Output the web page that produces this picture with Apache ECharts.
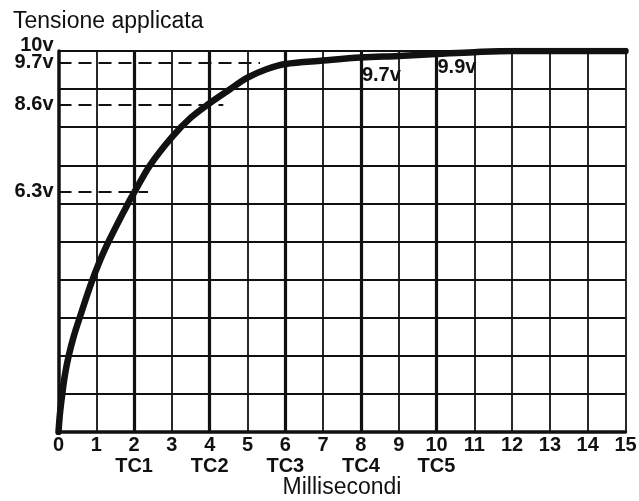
<!DOCTYPE html>
<html>
<head>
<meta charset="utf-8">
<title>Tensione applicata</title>
<script src="https://cdn.jsdelivr.net/npm/echarts@6/dist/echarts.min.js"></script>
<style>
  html, body { margin: 0; padding: 0; background: #fff; }
  #chart { width: 639px; height: 501px; }
</style>
</head>
<body>
<div id="chart"></div>
<script>
// Charging curve: applied voltage (v) against time (ms)
const timeMs  = [0, 0.04, 0.1, 0.17, 0.27, 0.4, 0.56, 0.9, 1.23, 1.84, 2, 2.42, 3, 3.5, 4, 4.5, 5, 5.5, 6, 7, 8, 9, 10, 11, 12, 15];
const voltage = [0, 0.5, 1.0, 1.5, 2.0, 2.5, 3.0, 4.0, 4.8, 6.0, 6.28, 7.0, 7.74, 8.25, 8.63, 8.97, 9.3, 9.52, 9.66, 9.75, 9.83, 9.87, 9.92, 9.97, 10, 10];

// Time constants marked on the time axis
const tcTimes  = [2, 4, 6, 8, 10];
const tcLabels = ['TC1', 'TC2', 'TC3', 'TC4', 'TC5'];

// Dashed reference levels and how far along the time axis they run
const guideLevels = [6.3, 8.6, 9.7];
const guideEnds   = [2.37, 4.36, 5.33];
const fullLevel   = 10;

// Voltage notes written beside TC4 and TC5
const noteTimes = [8, 10];
const noteVolts = [9.7, 9.9];

const boldFont = '"Liberation Sans Narrow", "Liberation Sans", Arial, sans-serif';
const plainFont = '"Liberation Sans", Arial, sans-serif';
const ink = '#111';

const curve = timeMs.map((t, i) => [t, voltage[i]]);

const guideLines = guideLevels.map((lvl, i) => [
  {
    coord: [0, lvl],
    label: { show: true, position: 'start', distance: 5, formatter: lvl + 'v' }
  },
  { coord: [guideEnds[i], lvl] }
]);
// label only for the full-scale level (invisible line segment)
guideLines.push([
  {
    coord: [0, fullLevel],
    lineStyle: { color: 'rgba(0,0,0,0)', width: 0.01 },
    label: { show: true, position: 'start', distance: 5, offset: [0, -6], formatter: fullLevel + 'v' }
  },
  { coord: [1, fullLevel] }
]);

const tcLines = tcTimes.map(t => ({ xAxis: t }));

const chart = echarts.init(document.getElementById('chart'));
chart.setOption({
  animation: false,
  backgroundColor: '#fff',
  title: {
    text: 'Tensione applicata',
    left: 8,
    top: 5,
    textStyle: { fontFamily: plainFont, fontSize: 23, fontWeight: 'normal', color: ink }
  },
  grid: { left: 58.5, right: 13.5, top: 51, bottom: 69, outerBoundsMode: 'none', containLabel: false },
  xAxis: {
    type: 'value',
    min: 0,
    max: 15,
    interval: 1,
    name: 'Millisecondi',
    nameLocation: 'middle',
    nameGap: 44,
    nameMoveOverlap: false,
    nameTextStyle: { fontFamily: plainFont, fontSize: 23, color: ink, verticalAlign: 'top' },
    axisLine: { show: true, lineStyle: { color: ink, width: 3.5 } },
    axisTick: { show: false },
    axisLabel: {
      margin: 3,
      fontFamily: boldFont,
      fontWeight: 'bold',
      fontSize: 20,
      lineHeight: 21,
      color: ink,
      formatter: v => {
        const i = tcTimes.indexOf(v);
        return i >= 0 ? v + '\n' + tcLabels[i] : String(v);
      }
    },
    splitLine: { show: true, lineStyle: { color: ink, width: 1.8 } }
  },
  yAxis: {
    type: 'value',
    min: 0,
    max: 10,
    interval: 1,
    axisLine: { show: true, lineStyle: { color: ink, width: 3.5 } },
    axisTick: { show: false },
    axisLabel: { show: false },
    splitLine: { show: true, lineStyle: { color: ink, width: 1.8 } }
  },
  series: [
    {
      type: 'line',
      name: 'guide',
      data: [],
      silent: true,
      markLine: {
        silent: true,
        symbol: 'none',
        animation: false,
        lineStyle: { color: ink, width: 2, type: [13, 7] },
        label: {
          fontFamily: boldFont,
          fontWeight: 'bold',
          fontSize: 20,
          color: ink
        },
        data: guideLines
      }
    },
    {
      type: 'line',
      name: 'tc',
      data: [],
      silent: true,
      markLine: {
        silent: true,
        symbol: 'none',
        animation: false,
        label: { show: false },
        lineStyle: { color: ink, width: 3.2, type: 'solid' },
        data: tcLines
      }
    },
    {
      type: 'line',
      name: 'tensione',
      data: curve,
      smooth: 0.35,
      showSymbol: false,
      lineStyle: { color: ink, width: 6.5, cap: 'round', join: 'round' },
      z: 5
    },
    {
      type: 'scatter',
      name: 'note',
      data: noteTimes.map((t, i) => [t, noteVolts[i]]),
      symbolSize: 0,
      z: 6,
      itemStyle: { color: ink, opacity: 1 },
      label: {
        show: true,
        position: 'right',
        distance: 1,
        offset: [0, 13],
        fontFamily: boldFont,
        fontWeight: 'bold',
        fontSize: 20,
        color: ink,
        opacity: 1,
        formatter: p => p.value[1] + 'v'
      }
    }
  ]
});
</script>
</body>
</html>
